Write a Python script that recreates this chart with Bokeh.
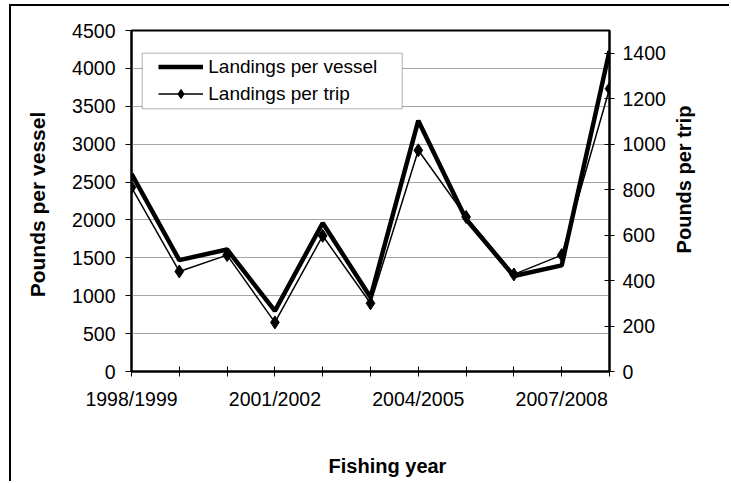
import math
from bokeh.plotting import figure
from bokeh.layouts import row, column
from bokeh.models import Range1d, LinearAxis, FixedTicker, Legend, LegendItem, BoxAnnotation, Label
from bokeh.embed import file_html
from bokeh.resources import INLINE

# ---- data ----
years = ["1998/1999", "1999/2000", "2000/2001", "2001/2002", "2002/2003", "2003/2004",
         "2004/2005", "2005/2006", "2006/2007", "2007/2008", "2008/2009"]
vessel = [2610, 1470, 1610, 800, 1960, 980, 3310, 2010, 1260, 1400, 4230]
trip = [810, 440, 512, 216, 597, 300, 973, 680, 427, 512, 1244]
left_ticks = [0, 500, 1000, 1500, 2000, 2500, 3000, 3500, 4000, 4500]
right_ticks = [0, 200, 400, 600, 800, 1000, 1200, 1400]
shown_labels = ["1998/1999", "2001/2002", "2004/2005", "2007/2008"]

FONT = "Liberation Sans"
TICK_SIZE = "19.5px"
x = list(range(len(years)))

# ---- main chart ----
p = figure(width=599, height=410, output_backend="svg", toolbar_location=None,
           x_range=Range1d(0, len(years) - 1), y_range=Range1d(0, 4500),
           min_border_left=62, min_border_right=57, min_border_top=24, min_border_bottom=45)
p.extra_y_ranges = {"trip": Range1d(0, 1500)}
p.outline_line_color = "black"
p.outline_line_width = 2
p.background_fill_color = "white"
p.border_fill_color = "white"

p.xgrid.visible = False
p.ygrid.ticker = FixedTicker(ticks=left_ticks)
p.ygrid.grid_line_color = "#a6a6a6"
p.ygrid.grid_line_width = 1


def style_ticks(ax):
    ax.axis_line_width = 2
    ax.axis_line_color = "black"
    ax.minor_tick_line_color = None
    ax.major_tick_line_color = "black"
    ax.major_label_text_font = FONT
    ax.major_label_text_font_size = TICK_SIZE
    ax.major_label_text_color = "black"


xa = p.xaxis[0]
xa.ticker = FixedTicker(ticks=x)
xa.major_label_overrides = {i: (years[i] if years[i] in shown_labels else "") for i in x}
xa.major_tick_in = 5
xa.major_tick_out = 5
xa.major_label_standoff = 11
style_ticks(xa)

ya = p.yaxis[0]
ya.ticker = FixedTicker(ticks=left_ticks)
ya.major_tick_in = 0
ya.major_tick_out = 6
ya.major_label_standoff = 10
style_ticks(ya)

ra = LinearAxis(y_range_name="trip", ticker=FixedTicker(ticks=right_ticks))
ra.major_tick_in = 5
ra.major_tick_out = 5
ra.major_label_standoff = 8
style_ticks(ra)
p.add_layout(ra, "right")

r_v = p.line(x, vessel, line_width=4.5, line_color="black")
r_t = p.line(x, trip, y_range_name="trip", line_width=1.5, line_color="black")
r_m = p.scatter(x, trip, y_range_name="trip", marker="diamond", size=13,
                fill_color="black", line_color="black")

box = BoxAnnotation(left=10.7, right=270.7, top=318.3, bottom=262.7,
                    left_units="screen", right_units="screen",
                    top_units="screen", bottom_units="screen",
                    fill_color="white", fill_alpha=1.0, line_color="black", line_width=1)
p.add_layout(box)

legend = Legend(items=[LegendItem(label="Landings per vessel", renderers=[r_v]),
                       LegendItem(label="Landings per trip", renderers=[r_t, r_m])],
                location=(27.3, 265.8), padding=0, margin=0, spacing=4,
                glyph_width=45, glyph_height=23, label_height=23, label_standoff=5,
                border_line_color=None, background_fill_alpha=0,
                label_text_font=FONT, label_text_font_size="19px", label_text_color="black")
p.add_layout(legend, "center")


# ---- title panels ----
def text_panel(w, h, text, tx, ty, angle, size):
    f = figure(width=w, height=h, output_backend="svg", toolbar_location=None,
               x_range=Range1d(0, 1), y_range=Range1d(0, 1),
               x_axis_location=None, y_axis_location=None, min_border=0)
    f.outline_line_color = None
    f.background_fill_color = "white"
    f.border_fill_color = "white"
    f.grid.visible = False
    f.add_layout(Label(x=tx, y=ty, x_units="screen", y_units="screen", angle=angle, text=text,
                       text_font=FONT, text_font_style="bold", text_font_size=size,
                       text_color="black", text_align="center", text_baseline="middle"))
    return f


left_title = text_panel(58, 410, "Pounds per vessel", 25.5, 167, math.pi / 2, "21px")
right_title = text_panel(61, 410, "Pounds per trip", 15.5, 192, math.pi / 2, "20px")
bottom_title = text_panel(718, 65, "Fishing year", 376, 16, 0, "20px")

layout = column(row(left_title, p, right_title, spacing=0), bottom_title, spacing=0,
                styles={"margin-left": "9px", "margin-top": "4px",
                        "border-left": "2px solid black", "border-top": "2px solid black"})

open("out.html", "w").write(file_html(layout, INLINE))
